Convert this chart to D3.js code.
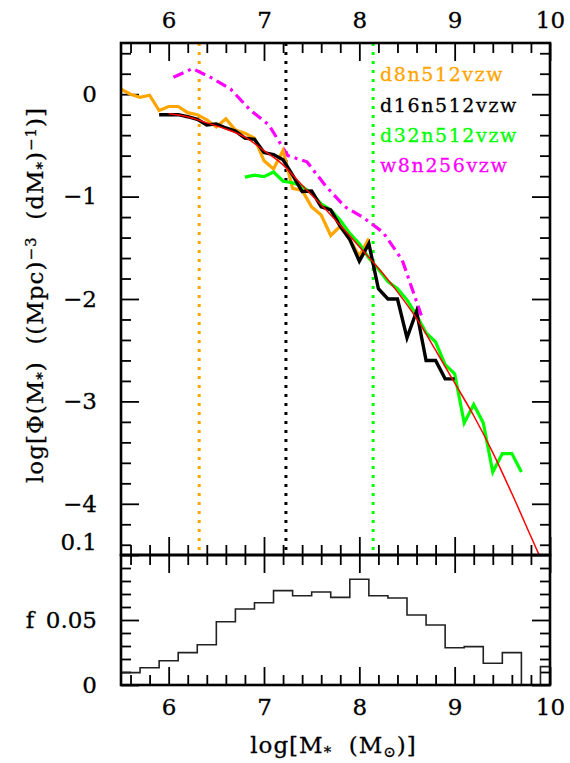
<!DOCTYPE html>
<html>
<head>
<meta charset="utf-8">
<script src="https://cdn.jsdelivr.net/npm/d3@7"></script>
<style>
  html, body { margin: 0; padding: 0; background: #fff; }
  svg { display: block; font-family: "DejaVu Serif", serif; }
</style>
</head>
<body>
<svg id="chart" width="570" height="763"></svg>
<script>
// Stellar mass functions for four runs, plus the red fit and the fraction histogram.
const d8Mass  = [5.5,5.6,5.7,5.8,5.9,6.0,6.1,6.2,6.3,6.4,6.5,6.6,6.7,6.8,6.9,7.0,7.1,7.2,7.3,7.4,7.5,7.6,7.7,7.8,7.9,8.0,8.1];
const d8Phi   = [0.05,0.00,-0.03,-0.01,-0.16,-0.12,-0.12,-0.18,-0.20,-0.25,-0.32,-0.24,-0.35,-0.38,-0.43,-0.65,-0.73,-0.55,-0.92,-0.94,-1.10,-1.18,-1.38,-1.29,-1.42,-1.58,-1.41];

const d16Mass = [5.9,6.0,6.1,6.2,6.3,6.4,6.5,6.6,6.7,6.8,6.9,7.0,7.1,7.2,7.3,7.4,7.5,7.6,7.7,7.8,7.9,8.0,8.1,8.2,8.3,8.4,8.5,8.6,8.7,8.8,8.9,9.0];
const d16Phi  = [-0.20,-0.20,-0.20,-0.22,-0.245,-0.30,-0.29,-0.33,-0.36,-0.43,-0.44,-0.57,-0.59,-0.64,-0.79,-0.95,-0.945,-1.10,-1.13,-1.29,-1.42,-1.63,-1.46,-1.90,-2.00,-2.00,-2.38,-2.12,-2.60,-2.60,-2.78,-2.78];

const d32Mass = [6.8,6.9,7.0,7.1,7.2,7.3,7.4,7.5,7.6,7.7,7.8,7.9,8.0,8.1,8.2,8.3,8.4,8.5,8.6,8.7,8.8,8.9,9.0,9.1,9.2,9.3,9.4,9.5,9.6,9.7];
const d32Phi  = [-0.81,-0.79,-0.805,-0.76,-0.85,-0.865,-0.90,-0.97,-1.07,-1.13,-1.23,-1.36,-1.46,-1.60,-1.71,-1.83,-1.90,-2.01,-2.16,-2.33,-2.42,-2.64,-2.73,-3.21,-3.03,-3.21,-3.69,-3.51,-3.51,-3.69];

const w8Mass  = [6.05,6.25,6.45,6.65,6.85,7.05,7.25,7.45,7.65,7.85,8.05,8.25,8.45,8.65];
const w8Phi   = [0.165,0.25,0.16,0.05,-0.15,-0.30,-0.60,-0.66,-0.90,-1.10,-1.21,-1.35,-1.62,-2.16];

const fitMass = [6.0,6.2,6.4,6.6,6.8,7.0,7.2,7.4,7.6,7.8,8.0,8.2,8.4,8.6,8.8,9.0,9.2,9.4,9.6,9.8,9.9];
const fitPhi  = [-0.19,-0.22,-0.28,-0.34,-0.42,-0.55,-0.69,-0.89,-1.08,-1.28,-1.49,-1.70,-1.93,-2.19,-2.50,-2.82,-3.14,-3.50,-3.90,-4.32,-4.53];

// resolution limits of the three d-runs
const limitMass   = [6.32, 7.23, 8.145];
const limitColors = ["#ffa500", "#000000", "#00ff00"];

// fraction histogram: lower bin edges (width 0.2) and values
const histEdges = [5.5,5.7,5.9,6.1,6.3,6.5,6.7,6.9,7.1,7.3,7.5,7.7,7.9,8.1,8.3,8.5,8.7,8.9,9.1,9.3,9.5,9.7,9.9];
const histFrac  = [0.0095,0.0133,0.0187,0.0249,0.031,0.0487,0.0585,0.0633,0.0726,0.0687,0.0715,0.0674,0.0813,0.0687,0.0669,0.0538,0.0462,0.0287,0.0295,0.0167,0.0249,0,0.0141];
const histWidth = 0.2;

const seriesNames  = ["d8n512vzw", "d16n512vzw", "d32n512vzw", "w8n256vzw"];
const seriesColors = ["#ffa500", "#000000", "#00ff00", "#ff00ff"];

const xMajor = [6, 7, 8, 9, 10];
const yTopMajor = [-4, -3, -2, -1, 0];
const yBotMajor = [0, 0.05, 0.1];

// layout
const L = 121, R = 550, T = 43, M = 555, B = 685;

const svg = d3.select("#chart");
const x = d3.scaleLinear().domain([5.5, 10]).range([L, R]);
const yTop = d3.scaleLinear().domain([-4.5, 0.5]).range([M, T]);
const yBot = d3.scaleLinear().domain([0, 0.1]).range([B, M]);

const xMinor = d3.range(5.6, 10.0001, 0.2).map(v => +v.toFixed(1)).filter(v => !xMajor.includes(v));
const yTopMinor = d3.range(-4.4, 0.5, 0.2).map(v => +v.toFixed(1)).filter(v => !yTopMajor.includes(v));
const yBotMinor = d3.range(0.01, 0.1, 0.01).map(v => +v.toFixed(2)).filter(v => !yBotMajor.includes(v));

const defs = svg.append("defs");
defs.append("clipPath").attr("id", "clipTop").append("rect")
  .attr("x", L).attr("y", T).attr("width", R - L).attr("height", M - T);
defs.append("clipPath").attr("id", "clipBot").append("rect")
  .attr("x", L).attr("y", M).attr("width", R - L).attr("height", B - M);

function styleAxis(g, fs) {
  g.select(".domain").remove();
  g.selectAll(".tick line").attr("stroke", "#000").attr("stroke-width", 1.8);
  g.selectAll(".tick text").attr("fill", "#000")
    .style("font-family", "'DejaVu Serif', serif").style("font-size", fs + "px")
    .attr("stroke", "#000").attr("stroke-width", 0.3);
}
const blank = () => "";
const majorLen = 18, minorLen = 10;
const FS = 23;

// --- top panel axes ---
svg.append("g").attr("transform", `translate(0,${T})`)
  .call(d3.axisTop(x).tickValues(xMajor).tickSize(-majorLen).tickPadding(15).tickFormat(d3.format("d")))
  .call(g => styleAxis(g, FS));
svg.append("g").attr("transform", `translate(0,${T})`)
  .call(d3.axisTop(x).tickValues(xMinor).tickSize(-minorLen).tickFormat(blank))
  .call(g => styleAxis(g, FS));
svg.append("g").attr("transform", `translate(0,${M})`)
  .call(d3.axisTop(x).tickValues(xMajor).tickSize(majorLen).tickFormat(blank))
  .call(g => styleAxis(g, FS));
svg.append("g").attr("transform", `translate(0,${M})`)
  .call(d3.axisTop(x).tickValues(xMinor).tickSize(minorLen).tickFormat(blank))
  .call(g => styleAxis(g, FS));
svg.append("g").attr("transform", `translate(${L},0)`)
  .call(d3.axisLeft(yTop).tickValues(yTopMajor).tickSize(-majorLen).tickPadding(24).tickFormat(d3.format("d")))
  .call(g => styleAxis(g, FS));
svg.append("g").attr("transform", `translate(${L},0)`)
  .call(d3.axisLeft(yTop).tickValues(yTopMinor).tickSize(-minorLen).tickFormat(blank))
  .call(g => styleAxis(g, FS));
svg.append("g").attr("transform", `translate(${R},0)`)
  .call(d3.axisRight(yTop).tickValues(yTopMajor).tickSize(-majorLen).tickFormat(blank))
  .call(g => styleAxis(g, FS));
svg.append("g").attr("transform", `translate(${R},0)`)
  .call(d3.axisRight(yTop).tickValues(yTopMinor).tickSize(-minorLen).tickFormat(blank))
  .call(g => styleAxis(g, FS));

// --- bottom panel axes ---
svg.append("g").attr("transform", `translate(0,${M})`)
  .call(d3.axisBottom(x).tickValues(xMajor).tickSize(majorLen).tickFormat(blank))
  .call(g => styleAxis(g, FS));
svg.append("g").attr("transform", `translate(0,${M})`)
  .call(d3.axisBottom(x).tickValues(xMinor).tickSize(minorLen).tickFormat(blank))
  .call(g => styleAxis(g, FS));
svg.append("g").attr("transform", `translate(0,${B})`)
  .call(d3.axisBottom(x).tickValues(xMajor).tickSize(-majorLen).tickPadding(14).tickFormat(d3.format("d")))
  .call(g => styleAxis(g, FS));
svg.append("g").attr("transform", `translate(0,${B})`)
  .call(d3.axisBottom(x).tickValues(xMinor).tickSize(-minorLen).tickFormat(blank))
  .call(g => styleAxis(g, FS));
const botLeft = svg.append("g").attr("transform", `translate(${L},0)`)
  .call(d3.axisLeft(yBot).tickValues(yBotMajor).tickSize(-majorLen).tickPadding(24).tickFormat(d => d === 0 ? "0" : String(d)))
  .call(g => styleAxis(g, FS));
// keep the top label of the lower panel clear of the panel joint
botLeft.selectAll(".tick text").filter(d => d === 0.1).attr("dy", "-0.25em");
svg.append("g").attr("transform", `translate(${L},0)`)
  .call(d3.axisLeft(yBot).tickValues(yBotMinor).tickSize(-minorLen).tickFormat(blank))
  .call(g => styleAxis(g, FS));
svg.append("g").attr("transform", `translate(${R},0)`)
  .call(d3.axisRight(yBot).tickValues(yBotMajor).tickSize(-majorLen).tickFormat(blank))
  .call(g => styleAxis(g, FS));
svg.append("g").attr("transform", `translate(${R},0)`)
  .call(d3.axisRight(yBot).tickValues(yBotMinor).tickSize(-minorLen).tickFormat(blank))
  .call(g => styleAxis(g, FS));

// --- top panel data ---
const topG = svg.append("g").attr("clip-path", "url(#clipTop)");

topG.selectAll("line.limit").data(limitMass).join("line")
  .attr("class", "limit")
  .attr("x1", d => x(d)).attr("x2", d => x(d))
  .attr("y1", T).attr("y2", M)
  .attr("stroke", (d, i) => limitColors[i])
  .attr("stroke-width", 3)
  .attr("stroke-dasharray", "3,6");

const lineTop = d3.line().x(d => x(d[0])).y(d => yTop(d[1]));
const zip = (a, b) => a.map((v, i) => [v, b[i]]);

topG.append("path").datum(zip(w8Mass, w8Phi))
  .attr("d", lineTop).attr("fill", "none")
  .attr("stroke", seriesColors[3]).attr("stroke-width", 3.2)
  .attr("stroke-dasharray", "11,5,3,5");

topG.append("path").datum(zip(d8Mass, d8Phi))
  .attr("d", lineTop).attr("fill", "none")
  .attr("stroke", seriesColors[0]).attr("stroke-width", 3.2);

topG.append("path").datum(zip(d32Mass, d32Phi))
  .attr("d", lineTop).attr("fill", "none")
  .attr("stroke", seriesColors[2]).attr("stroke-width", 3.2);

topG.append("path").datum(zip(d16Mass, d16Phi))
  .attr("d", lineTop).attr("fill", "none")
  .attr("stroke", seriesColors[1]).attr("stroke-width", 3.4);

topG.append("path").datum(zip(fitMass, fitPhi))
  .attr("d", lineTop.curve(d3.curveMonotoneX)).attr("fill", "none")
  .attr("stroke", "#ff0000").attr("stroke-width", 1.5);

// legend
const legendY = [81, 112, 142, 172];
svg.selectAll("text.legend").data(seriesNames).join("text")
  .attr("class", "legend")
  .attr("x", 380).attr("y", (d, i) => legendY[i])
  .attr("fill", (d, i) => seriesColors[i])
  .attr("stroke", (d, i) => seriesColors[i]).attr("stroke-width", 0.3)
  .style("font-size", "19px").style("letter-spacing", "1.6px")
  .text(d => d);

// --- bottom panel histogram ---
const histPts = histEdges.map((e, i) => [e, histFrac[i]]);
histPts.push([histEdges[histEdges.length - 1] + histWidth, histFrac[histFrac.length - 1]]);
svg.append("g").attr("clip-path", "url(#clipBot)")
  .append("path").datum(histPts)
  .attr("d", d3.line().x(d => x(d[0])).y(d => yBot(d[1])).curve(d3.curveStepAfter))
  .attr("fill", "none").attr("stroke", "#222").attr("stroke-width", 1.6);

// frames
[[T, M], [M, B]].forEach(([a, b]) => {
  svg.append("rect").attr("x", L).attr("y", a).attr("width", R - L).attr("height", b - a)
    .attr("fill", "none").attr("stroke", "#000").attr("stroke-width", 2.6);
});

// axis titles
const NB = "\u00A0";
const xt = svg.append("text").attr("x", (L + R) / 2 - 2).attr("y", 753)
  .attr("text-anchor", "middle").style("font-size", "23px").style("letter-spacing", "1px")
  .attr("fill", "#000").attr("stroke", "#000").attr("stroke-width", 0.3);
xt.append("tspan").text("log[M");
xt.append("tspan").attr("baseline-shift", "-25%").style("font-size", "15px").text("*");
xt.append("tspan").text(NB + NB + "(M");
xt.append("tspan").attr("baseline-shift", "-25%").style("font-size", "15px").text("\u2299");
xt.append("tspan").text(")]");

const yt = svg.append("text")
  .attr("transform", "translate(43,295) rotate(-90)")
  .attr("text-anchor", "middle").style("font-size", "23px").style("letter-spacing", "1px")
  .attr("fill", "#000").attr("stroke", "#000").attr("stroke-width", 0.3);
yt.append("tspan").text("log[\u03A6(M");
yt.append("tspan").attr("baseline-shift", "-25%").style("font-size", "15px").text("*");
yt.append("tspan").text(")" + NB + NB + "((Mpc)");
yt.append("tspan").attr("baseline-shift", "45%").style("font-size", "15px").text("\u22123");
yt.append("tspan").text(NB + NB + "(dM");
yt.append("tspan").attr("baseline-shift", "-25%").style("font-size", "15px").text("*");
yt.append("tspan").text(")");
yt.append("tspan").attr("baseline-shift", "45%").style("font-size", "15px").text("\u22121");
yt.append("tspan").text(")]");

svg.append("text").attr("x", 30).attr("y", 628)
  .attr("text-anchor", "middle").style("font-size", "23px")
  .attr("fill", "#000").attr("stroke", "#000").attr("stroke-width", 0.3).text("f");
</script>
</body>
</html>
